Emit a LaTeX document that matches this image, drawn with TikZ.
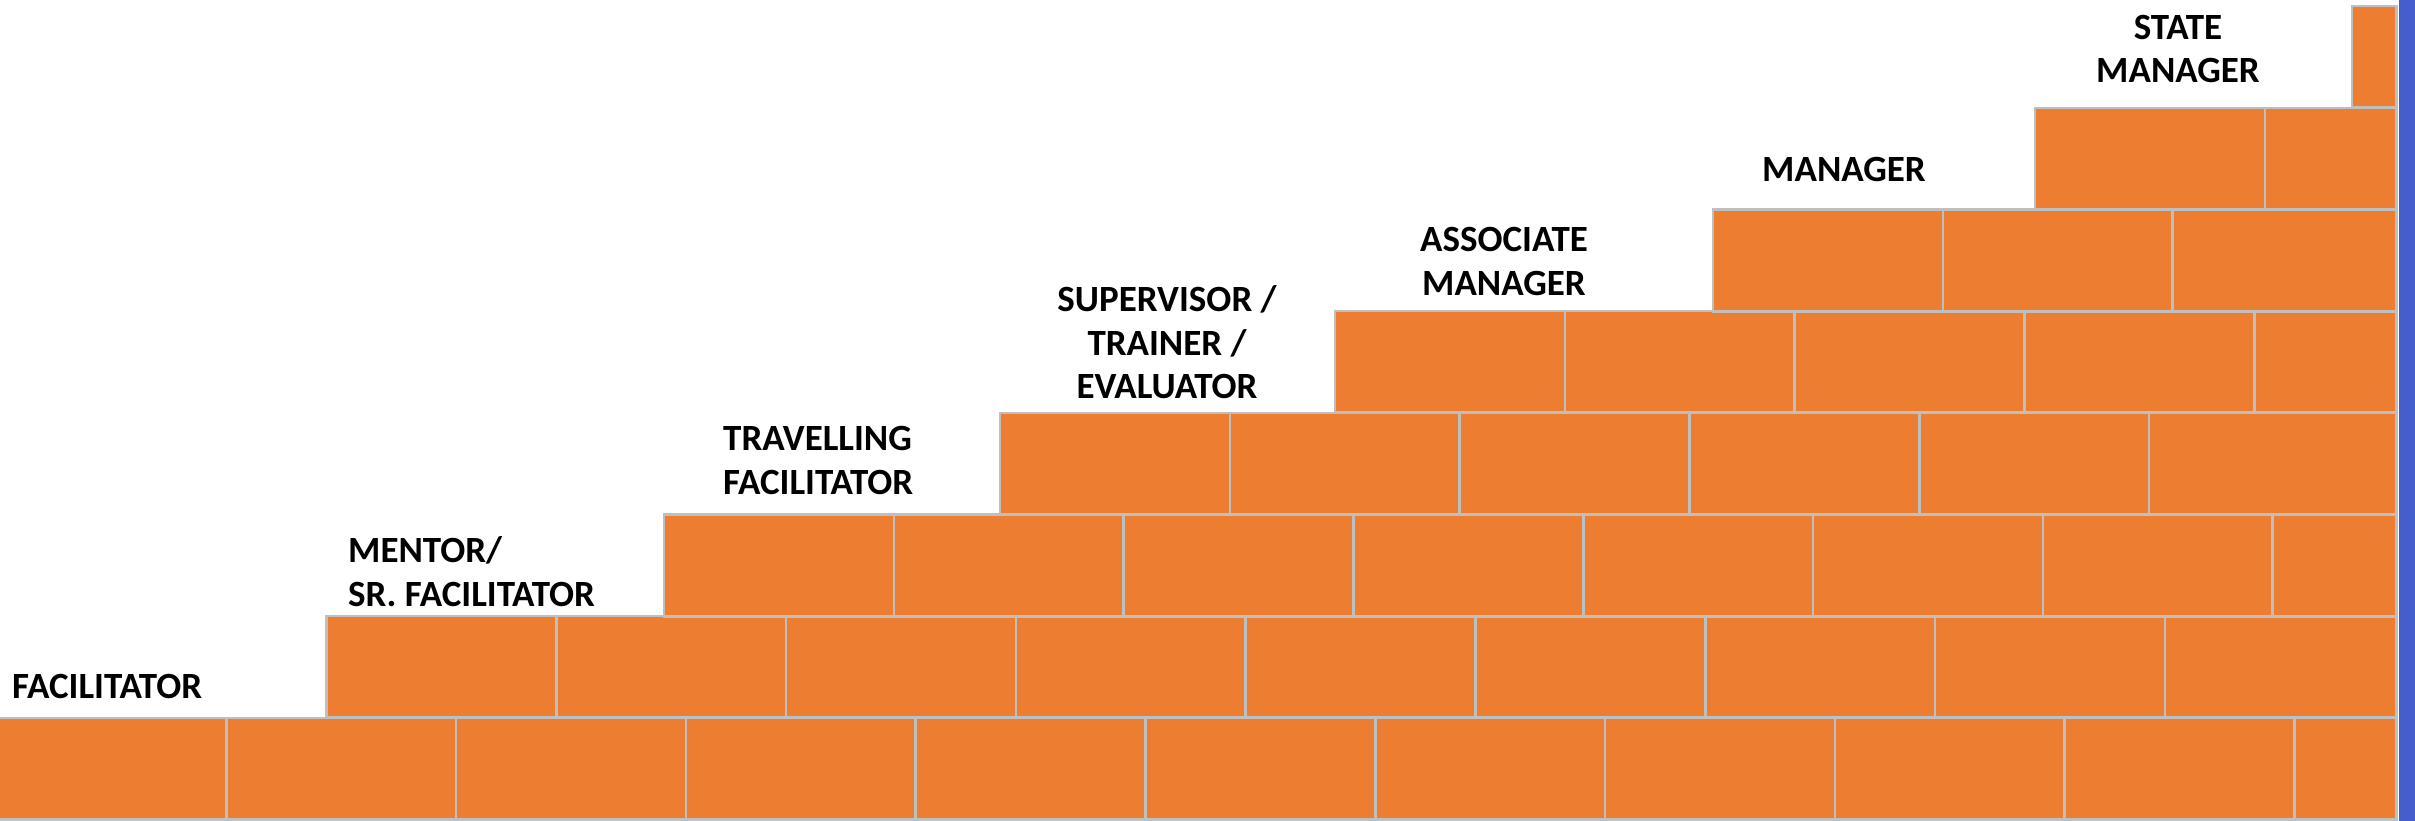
\documentclass[tikz,border=0pt]{standalone}
\usepackage{fontspec}
\newfontfamily\labfont{Carlito}
\definecolor{brickorange}{HTML}{ED7D31}
\definecolor{mortar}{HTML}{BFBFBF}
\definecolor{barblue}{HTML}{445FCD}
\tikzset{
  brick/.style={fill=brickorange, draw=mortar, line width=2.6pt},
  lab/.style={font=\labfont\bfseries\fontsize{37}{43.5}\selectfont, inner sep=0pt, text=black}
}
\begin{document}
\begin{tikzpicture}[x=1pt,y=-1pt]
\useasboundingbox (0,0) rectangle (2415,821);
\fill[white] (0,0) rectangle (2415,821);
% bricks
\foreach \ys/\xs in {718/-3.5, 616/326.5, 514.5/664, 413/1000, 311/1335, 209.5/1713, 108/2035, 6/2352}{
  \foreach \i in {0,...,10}{
    \pgfmathsetmacro\bl{\xs+\i*229.8}
    \pgfmathsetmacro\br{(\bl+229.8>2370) ? 2396.5 : \bl+229.8}
    \pgfmathtruncatemacro\ok{\bl<2370 ? 1 : 0}
    \ifnum\ok=1 \draw[brick] (\bl,\ys) rectangle (\br,\ys+101.75); \fi
  }
}
% blue bar
\fill[barblue] (2399,0) rectangle (2415,821);
% labels
\node[lab, anchor=west] (fac) at (12,686) {FACILITATOR};
\node[lab, anchor=west, align=left] (mentor) at (348,571.5) {MENTOR/\\SR. FACILITATOR};
\node[lab, anchor=west, align=left] (travel) at (723,460.5) {TRAVELLING\\FACILITATOR};
\node[lab, align=center] (super) at (1167,342.5) {SUPERVISOR /\\TRAINER /\\EVALUATOR};
\node[lab, align=center] (assoc) at (1504,261.5) {ASSOCIATE\\MANAGER};
\node[lab] (mgr) at (1844,169) {MANAGER};
\node[lab, align=center] (state) at (2178,49) {STATE\\MANAGER};
\end{tikzpicture}
\end{document}
